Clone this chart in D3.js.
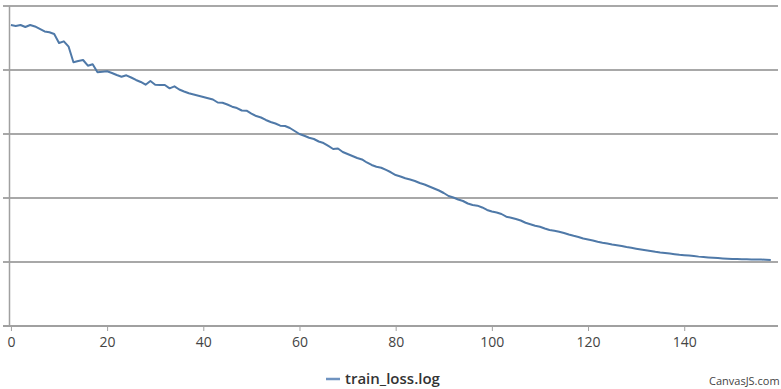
<!DOCTYPE html>
<html>
<head>
<meta charset="utf-8">
<script src="https://cdn.jsdelivr.net/npm/d3@7"></script>
<style>
  html, body { margin: 0; padding: 0; background: #fff; }
  svg { display: block; }
</style>
</head>
<body>
<div id="chart"></div>
<script>
  // series: train_loss.log, one value per epoch (y axis has no labels in the source)
  const seriesName = "train_loss.log";
  const lossValues = [
    4.703, 4.688, 4.703, 4.672, 4.703, 4.680, 4.641, 4.602, 4.589, 4.563,
    4.422, 4.448, 4.364, 4.120, 4.141, 4.156, 4.067, 4.089, 3.964, 3.972,
    3.980, 3.953, 3.922, 3.895, 3.917, 3.883, 3.844, 3.813, 3.770, 3.828,
    3.770, 3.766, 3.766, 3.714, 3.745, 3.695, 3.664, 3.636, 3.617, 3.598,
    3.578, 3.558, 3.539, 3.492, 3.489, 3.461, 3.427, 3.406, 3.367, 3.364,
    3.320, 3.281, 3.258, 3.219, 3.188, 3.164, 3.130, 3.125, 3.094, 3.047,
    3.000, 2.972, 2.942, 2.922, 2.883, 2.859, 2.813, 2.766, 2.773, 2.719,
    2.688, 2.656, 2.625, 2.602, 2.555, 2.516, 2.489, 2.473, 2.438, 2.402,
    2.359, 2.336, 2.308, 2.289, 2.266, 2.234, 2.211, 2.180, 2.148, 2.117,
    2.078, 2.031, 2.008, 1.977, 1.953, 1.914, 1.891, 1.880, 1.852, 1.813,
    1.789, 1.773, 1.750, 1.708, 1.691, 1.672, 1.648, 1.613, 1.591, 1.567,
    1.550, 1.523, 1.500, 1.488, 1.472, 1.453, 1.430, 1.409, 1.391, 1.367,
    1.352, 1.336, 1.317, 1.302, 1.289, 1.273, 1.263, 1.250, 1.234, 1.222,
    1.208, 1.195, 1.183, 1.172, 1.159, 1.148, 1.141, 1.131, 1.122, 1.113,
    1.106, 1.100, 1.092, 1.084, 1.078, 1.072, 1.066, 1.061, 1.056, 1.052,
    1.047, 1.045, 1.044, 1.042, 1.041, 1.039, 1.038, 1.036, 1.033
  ];
  const xTicks = [0, 20, 40, 60, 80, 100, 120, 140];
  const yGrid = [1, 2, 3, 4, 5];

  const width = 781, height = 389;
  const plot = { left: 9, right: 778, top: 6, bottom: 326 };

  const svg = d3.select("#chart")
    .append("svg")
    .attr("width", width)
    .attr("height", height);

  const x = d3.scaleLinear()
    .domain([-0.4, 159.5])
    .range([plot.left, plot.right]);

  const y = d3.scaleLinear()
    .domain([0, 5])
    .range([plot.bottom, plot.top]);

  // horizontal grid lines (they poke out left of the axis like ticks)
  svg.append("g")
    .selectAll("line")
    .data(yGrid)
    .enter().append("line")
    .attr("x1", 3)
    .attr("x2", plot.right)
    .attr("y1", d => y(d))
    .attr("y2", d => y(d))
    .attr("stroke", "#a8a8a8")
    .attr("stroke-width", 2);

  // y axis line
  svg.append("line")
    .attr("x1", plot.left + 0.5).attr("x2", plot.left + 0.5)
    .attr("y1", plot.top).attr("y2", plot.bottom)
    .attr("stroke", "#a0a0a0")
    .attr("stroke-width", 1.5);

  // x axis
  const xAxis = d3.axisBottom(x)
    .tickValues(xTicks)
    .tickSize(5)
    .tickPadding(6);

  const gx = svg.append("g")
    .attr("transform", "translate(0," + plot.bottom + ")")
    .call(xAxis);

  gx.select(".domain").remove();
  gx.append("line")
    .attr("x1", 3).attr("x2", plot.right)
    .attr("y1", 0).attr("y2", 0)
    .attr("stroke", "#a0a0a0")
    .attr("stroke-width", 2);
  gx.selectAll(".tick line").attr("stroke", "#a0a0a0");
  gx.selectAll(".tick text")
    .attr("fill", "#444")
    .style("font-family", "'Open Sans', sans-serif")
    .style("font-size", "14px");

  // loss line
  const line = d3.line()
    .x((d, i) => x(i))
    .y(d => y(d));

  svg.append("path")
    .datum(lossValues)
    .attr("fill", "none")
    .attr("stroke", "#4f79a8")
    .attr("stroke-width", 2)
    .attr("stroke-linejoin", "round")
    .attr("d", line);

  // legend
  const legend = svg.append("g").attr("transform", "translate(326,379)");
  legend.append("line")
    .attr("x1", 0).attr("x2", 14)
    .attr("stroke", "#6f93c0")
    .attr("stroke-width", 2.5);
  legend.append("text")
    .attr("x", 19)
    .attr("dy", "0.35em")
    .attr("fill", "#333")
    .style("font-family", "'Open Sans', sans-serif")
    .style("font-size", "15px")
    .style("font-weight", "600")
    .text(seriesName);

  // credit
  svg.append("text")
    .attr("x", 709)
    .attr("y", 385)
    .attr("fill", "#444")
    .style("font-family", "'Open Sans', sans-serif")
    .style("font-size", "11px")
    .text("CanvasJS.com");
</script>
</body>
</html>
